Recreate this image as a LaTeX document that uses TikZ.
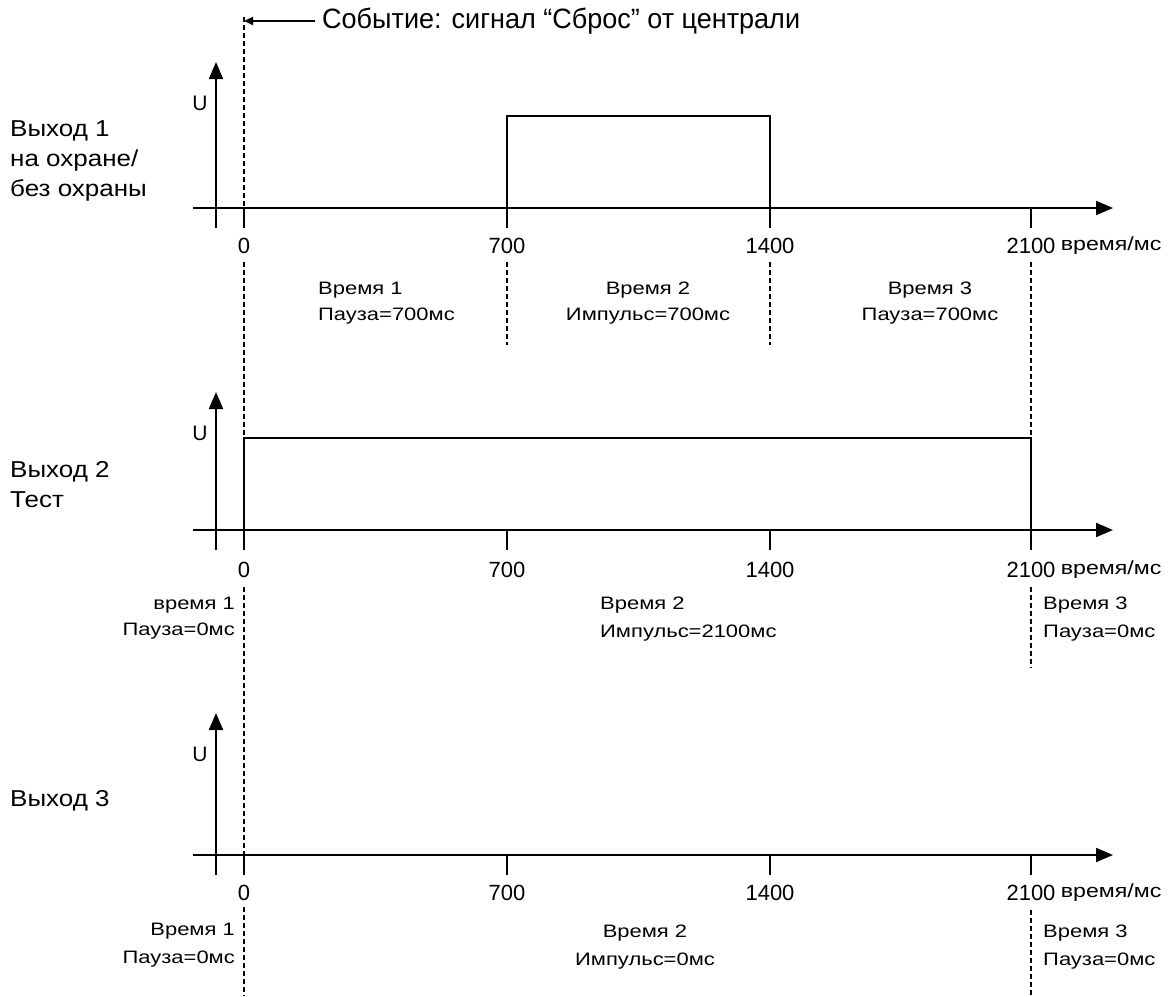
\documentclass[tikz,border=0pt]{standalone}
\usepackage{fontspec}
\setmainfont{Liberation Sans}
\newfontfamily\wideA[FakeStretch=1.13]{Liberation Sans}
\newfontfamily\wideB[FakeStretch=1.22]{Liberation Sans}
\usetikzlibrary{arrows.meta}
\begin{document}
\begin{tikzpicture}[x=1pt,y=-1pt,
  axisline/.style={line width=2pt},
  axarrow/.style={line width=2pt,-{Triangle[length=17pt,width=14pt]}},
  pulse/.style={line width=1.6pt},
  dline/.style={line width=1.6pt,dash pattern=on 5pt off 3pt},
  tlab/.style={font=\fontsize{22}{26}\selectfont,inner sep=0pt},
  ulab/.style={font=\fontsize{21}{24}\selectfont,inner sep=0pt},
  slab/.style={font=\wideB\fontsize{18}{28}\selectfont,inner sep=0pt},
  slabp/.style={font=\wideB\fontsize{18}{26}\selectfont,inner sep=0pt},
  blab/.style={font=\wideA\fontsize{23}{30}\selectfont,inner sep=0pt,anchor=west,align=left},
  toplab/.style={font=\fontsize{28}{32}\selectfont,inner sep=0pt,anchor=west}]
\useasboundingbox (0,0) rectangle (1170,996);
\fill[white] (0,0) rectangle (1170,996);

% top event arrow
\node[toplab] (ev) at (322,21) {\scalebox{0.965}[1]{Событие: сигнал “Сброс” от централи}};
\coordinate (evtip) at (244,21);
\draw[line width=2pt,-{Triangle[length=9pt,width=8pt]}] (ev.west) ++(-7,0) -- (evtip);

% axes for three panels
\foreach \ay/\ty/\ly/\n in {208/62/246/a, 530/392/570/b, 855/713/893/c} {
  \coordinate (xs\n) at (193,\ay);
  \coordinate (xe\n) at (1113,\ay);
  \coordinate (ys\n) at (216,\ay+20);
  \coordinate (ye\n) at (216,\ty);
  \draw[axarrow] (xs\n) -- (xe\n);
  \draw[axarrow] (ys\n) -- (ye\n);
  \foreach \x in {244,507,770,1031} \draw[axisline] (\x,\ay) -- (\x,\ay+20);
  \node[ulab] (u\n) at (200,\ty+41) {U};
  \node[tlab] (t0\n) at (244,\ly) {0};
  \node[tlab] (t1\n) at (507,\ly) {700};
  \node[tlab] (t2\n) at (770,\ly) {1400};
  \node[tlab] (t3\n) at (1031,\ly) {2100};
  \node[tlab,anchor=west] (tu\n) at ([xshift=5pt]t3\n.east) {\wideB\fontsize{19}{22}\selectfont время/мс};
}

% pulses
\draw[pulse] (507,208) -- (507,116) -- (770,116) -- (770,208);
\draw[pulse] (244,550) -- (244,438) -- (1031,438) -- (1031,530);

% dashed markers
\draw[dline] (244,17) -- (244,208);
\draw[dline] (244,262) -- (244,437);
\draw[dline] (507,262) -- (507,345);
\draw[dline] (770,262) -- (770,345);
\draw[dline] (1031,262) -- (1031,437);
\draw[dline] (244,587) -- (244,855);
\draw[dline] (1031,587) -- (1031,668);
\draw[dline] (244,907) -- (244,996);
\draw[dline] (1031,910) -- (1031,996);

% left labels
\node[blab] (o1) at (10,161) {Выход 1\\на охране/\\без охраны};
\node[blab] (o2) at (10,485) {Выход 2\\Тест};
\node[blab] (o3) at (10,801) {Выход 3};

% panel 1 labels
\node[slabp,align=left,anchor=west] (p1a) at (318,303) {Время 1\\Пауза=700мс};
\node[slabp,align=center] (p1b) at (648,303) {Время 2\\Импульс=700мс};
\node[slabp,align=center] (p1c) at (930,303) {Время 3\\Пауза=700мс};

% panel 2 labels
\node[slabp,align=right,anchor=east] (p2a) at (235,618) {время 1\\Пауза=0мс};
\node[slab,align=left,anchor=west] (p2b) at (600,619) {Время 2\\Импульс=2100мс};
\node[slab,align=left,anchor=west] (p2c) at (1043,619) {Время 3\\Пауза=0мс};

% panel 3 labels
\node[slab,align=right,anchor=east] (p3a) at (235,945) {Время 1\\Пауза=0мс};
\node[slab,align=center] (p3b) at (645,947) {Время 2\\Импульс=0мс};
\node[slab,align=left,anchor=west] (p3c) at (1043,947) {Время 3\\Пауза=0мс};
\end{tikzpicture}
\end{document}
